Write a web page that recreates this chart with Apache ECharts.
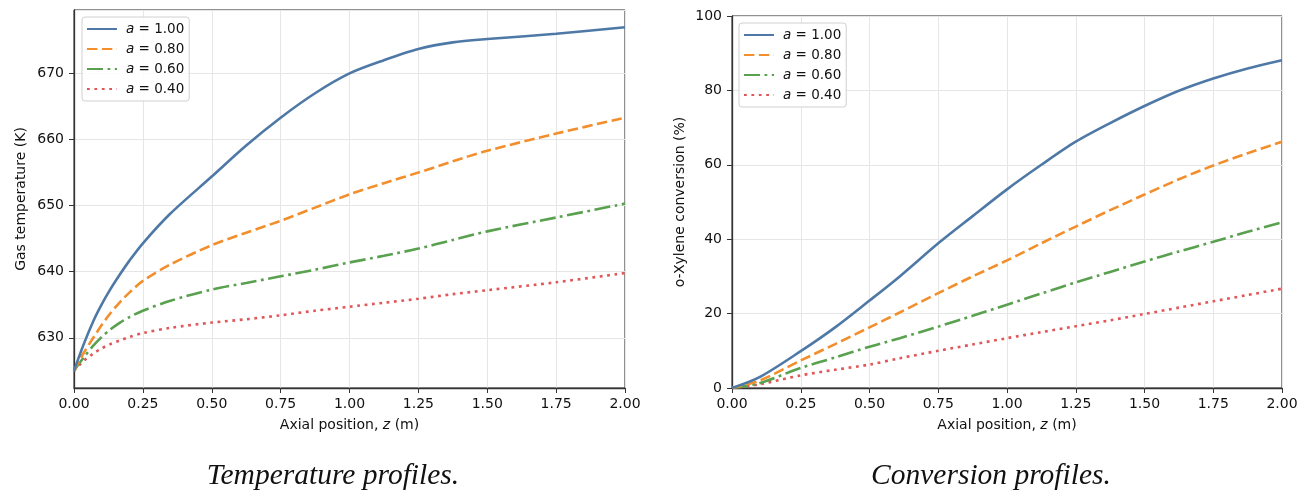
<!DOCTYPE html>
<html>
<head>
<meta charset="utf-8">
<script src="https://cdn.jsdelivr.net/npm/echarts@6/dist/echarts.min.js"></script>
<style>
  html, body { margin: 0; padding: 0; background: #fff; }
  #main { width: 1315px; height: 500px; }
</style>
</head>
<body>
<div id="main"></div>
<script>
// 数据：轴向位置 z (m)
var zTemp = [0, 0.035, 0.07, 0.1, 0.13, 0.167, 0.2, 0.25, 0.35, 0.5, 0.625, 0.75, 0.875, 1.0, 1.125, 1.25, 1.375, 1.5, 1.75, 2.0];
// 气体温度 (K)
var temp100 = [625.0, 629.0, 632.5, 635.0, 637.2, 639.6, 641.6, 644.3, 648.8, 654.4, 659.1, 663.3, 667.0, 670.0, 672.0, 673.7, 674.7, 675.2, 676.0, 677.0];
var temp080 = [625.0, 627.7, 630.0, 631.9, 633.6, 635.4, 636.8, 638.6, 641.1, 644.0, 645.9, 647.7, 649.7, 651.7, 653.4, 655.0, 656.7, 658.3, 660.9, 663.3];
var temp060 = [625.0, 627.0, 628.8, 630.1, 631.2, 632.3, 633.1, 634.1, 635.6, 637.3, 638.3, 639.3, 640.3, 641.4, 642.4, 643.5, 644.8, 646.1, 648.2, 650.3];
var temp040 = [625.0, 626.5, 627.6, 628.4, 629.0, 629.6, 630.1, 630.7, 631.5, 632.3, 632.8, 633.4, 634.1, 634.7, 635.3, 635.9, 636.6, 637.2, 638.4, 639.8];

var zConv = [0, 0.1, 0.25, 0.375, 0.5, 0.61, 0.75, 0.875, 1.0, 1.125, 1.25, 1.375, 1.5, 1.625, 1.75, 1.875, 2.0];
// 邻二甲苯转化率 (%)
var conv100 = [0, 2.9, 9.9, 16.3, 23.5, 30.0, 38.9, 46.2, 53.4, 60.0, 66.2, 71.2, 75.8, 79.9, 83.2, 85.9, 88.1];
var conv080 = [0, 2.0, 7.4, 11.8, 16.3, 20.3, 25.5, 30.0, 34.3, 38.9, 43.4, 47.8, 52.0, 56.1, 59.8, 63.1, 66.2];
var conv060 = [0, 1.3, 5.4, 8.2, 11.1, 13.4, 16.5, 19.4, 22.4, 25.4, 28.4, 31.2, 34.0, 36.7, 39.3, 42.0, 44.5];
var conv040 = [0, 1.0, 3.4, 4.9, 6.3, 8.0, 10.0, 11.7, 13.4, 15.0, 16.6, 18.2, 19.9, 21.6, 23.3, 25.0, 26.7];

var names = ['a = 1.00', 'a = 0.80', 'a = 0.60', 'a = 0.40'];
var colors = ['#4e79a7', '#f28e2b', '#59a14f', '#e15759'];
var dashes = ['solid', [10.4, 4.5], [16, 4.5, 2.8, 4.5], [2.8, 4.6]];
var xTicks = 0.25;

function pairs(xs, ys) {
    var out = [];
    for (var i = 0; i < xs.length; i++) {
        out.push([xs[i], ys[i]]);
    }
    return out;
}

var tickFont = { color: '#111', fontSize: 14, fontFamily: 'DejaVu Sans' };
var richItalic = { i: { fontStyle: 'italic', fontFamily: 'DejaVu Sans', fontSize: 13.5, color: '#111', padding: [0, 0, 0, 4] } };

function makeX(idx) {
    return {
        type: 'value', gridIndex: idx, min: 0, max: 2, interval: xTicks,
        name: 'Axial position, {i|z} (m)', nameLocation: 'middle', nameGap: 30,
        nameTextStyle: { color: '#111', fontSize: 14, fontFamily: 'DejaVu Sans',
            rich: { i: { fontStyle: 'italic', fontSize: 14, fontFamily: 'DejaVu Sans', color: '#111' } } },
        axisLine: { show: true, onZero: false, lineStyle: { color: '#333', width: 1.3 } },
        axisTick: { show: true, inside: false, length: 5, lineStyle: { color: '#333' } },
        axisLabel: Object.assign({ margin: 9, formatter: function (v) { return v.toFixed(2); } }, tickFont),
        splitLine: { show: true, lineStyle: { color: '#e6e6e6', width: 1 } }
    };
}

function makeLegend(left, top) {
    return {
        orient: 'vertical', left: left, top: top,
        data: names,
        itemWidth: 30, itemHeight: 10, itemGap: 6,
        padding: [5, 5, 5, 4],
        backgroundColor: 'rgba(255,255,255,0.85)',
        borderColor: '#d0d0d0', borderWidth: 1, borderRadius: 3,
        itemStyle: { color: 'rgba(0,0,0,0)', borderWidth: 0 },
        formatter: function (name) { return '{i|a}' + name.slice(1); },
        textStyle: { color: '#111', fontSize: 13.5, fontFamily: 'DejaVu Sans', rich: richItalic }
    };
}

var series = [];
var tempSets = [temp100, temp080, temp060, temp040];
var convSets = [conv100, conv080, conv060, conv040];
for (var k = 0; k < 4; k++) {
    series.push({
        name: names[k], type: 'line', xAxisIndex: 0, yAxisIndex: 0,
        data: pairs(zTemp, tempSets[k]), showSymbol: false, symbol: 'none',
        smooth: 0.3,
        lineStyle: { color: colors[k], width: 2.6, type: dashes[k] },
        itemStyle: { color: colors[k] }, z: 10 - k
    });
    series.push({
        name: names[k], type: 'line', xAxisIndex: 1, yAxisIndex: 1,
        data: pairs(zConv, convSets[k]), showSymbol: false, symbol: 'none',
        smooth: 0.3,
        lineStyle: { color: colors[k], width: 2.6, type: dashes[k] },
        itemStyle: { color: colors[k] }, z: 10 - k
    });
}

var chart = echarts.init(document.getElementById('main'));
var option = {
    backgroundColor: '#fff',
    animation: false,
    title: [
        { text: 'Temperature profiles.', left: 328, top: 456, textAlign: 'center',
          textStyle: { fontFamily: 'Liberation Serif', fontStyle: 'italic', fontWeight: 'normal', fontSize: 29.5, color: '#111' } },
        { text: 'Conversion profiles.', left: 986, top: 456, textAlign: 'center',
          textStyle: { fontFamily: 'Liberation Serif', fontStyle: 'italic', fontWeight: 'normal', fontSize: 29.5, color: '#111' } }
    ],
    legend: [makeLegend(82, 17), makeLegend(739, 23)],
    grid: [
        { left: 74, top: 10, width: 551, height: 378, show: true, borderColor: '#222', borderWidth: 1, backgroundColor: 'transparent' },
        { left: 732, top: 16, width: 550, height: 372, show: true, borderColor: '#222', borderWidth: 1, backgroundColor: 'transparent' }
    ],
    xAxis: [makeX(0), makeX(1)],
    yAxis: [
        {
            type: 'value', gridIndex: 0, min: 622.4, max: 679.6, minInterval: 10, maxInterval: 10,
            name: 'Gas temperature (K)', nameLocation: 'middle', nameGap: 46,
            nameTextStyle: { color: '#111', fontSize: 14, fontFamily: 'DejaVu Sans' },
            axisLine: { show: true, lineStyle: { color: '#333', width: 1.3 } },
            axisTick: { show: true, length: 5, lineStyle: { color: '#333' } },
            axisLabel: Object.assign({ margin: 10, showMinLabel: false, showMaxLabel: false }, tickFont),
            splitLine: { show: true, lineStyle: { color: '#e6e6e6', width: 1 } }
        },
        {
            type: 'value', gridIndex: 1, min: 0, max: 100, interval: 20,
            name: 'o-Xylene conversion (%)', nameLocation: 'middle', nameGap: 45,
            nameTextStyle: { color: '#111', fontSize: 14, fontFamily: 'DejaVu Sans' },
            axisLine: { show: true, lineStyle: { color: '#333', width: 1.3 } },
            axisTick: { show: true, length: 5, lineStyle: { color: '#333' } },
            axisLabel: Object.assign({ margin: 10 }, tickFont),
            splitLine: { show: true, lineStyle: { color: '#e6e6e6', width: 1 } }
        }
    ],
    series: series
};
option && chart.setOption(option);
</script>
</body>
</html>
